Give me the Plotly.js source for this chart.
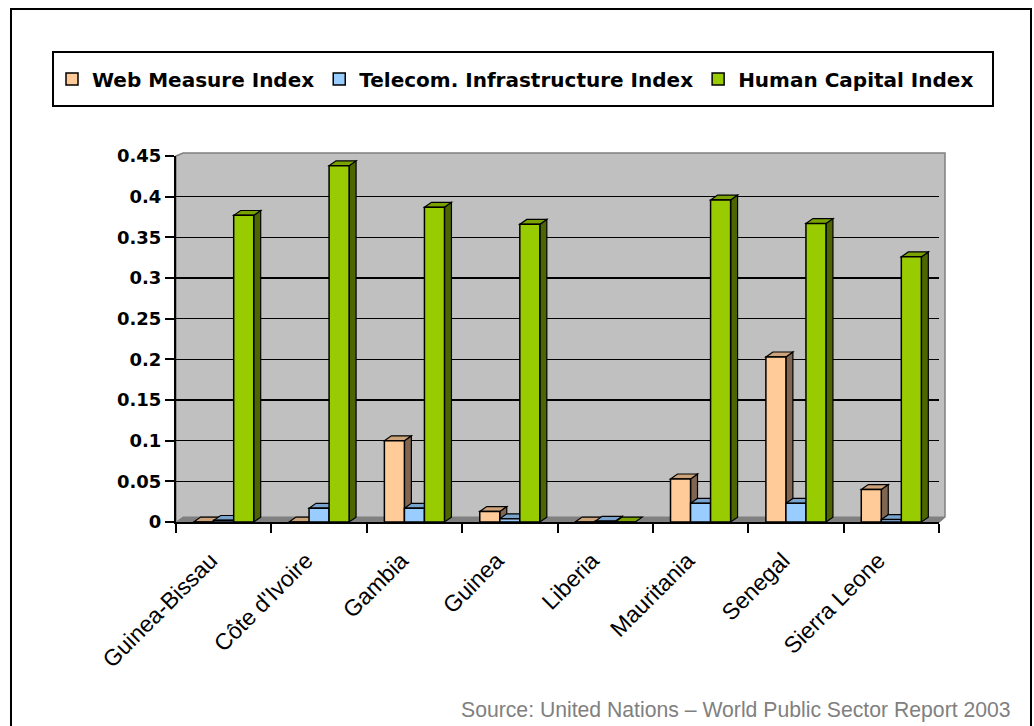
<!DOCTYPE html>
<html>
<head>
<meta charset="utf-8">
<script src="https://cdn.plot.ly/plotly-3.0.1.min.js"></script>
<style>
html,body{margin:0;padding:0;background:#ffffff;}
#chart{width:1034px;height:726px;}
</style>
</head>
<body>
<div id="chart"></div>
<script>
// ---- data ----
const countries = ["Guinea-Bissau", "Côte d'Ivoire", "Gambia", "Guinea", "Liberia", "Mauritania", "Senegal", "Sierra Leone"];
const webMeasure = [0, 0, 0.10, 0.013, 0, 0.053, 0.203, 0.04];
const telecomInfra = [0.002, 0.017, 0.017, 0.004, 0.001, 0.023, 0.023, 0.003];
const humanCapital = [0.377, 0.438, 0.387, 0.366, 0, 0.396, 0.367, 0.326];
const seriesNames = ["Web Measure Index", "Telecom. Infrastructure Index", "Human Capital Index"];
const yTickVals = [0, 0.05, 0.1, 0.15, 0.2, 0.25, 0.3, 0.35, 0.4, 0.45];
const yTickText = ["0", "0.05", "0.1", "0.15", "0.2", "0.25", "0.3", "0.35", "0.4", "0.45"];
const sourceText = "Source: United Nations – World Public Sector Report 2003";

// ---- styles ----
const frontColors = ["#FFCC99", "#99CCFF", "#99CC00"];
const topColors = ["#CCA37A", "#7AA3CC", "#7AA300"];
const sideColors = ["#806650", "#4D6680", "#4D6600"];
const FONT = "Liberation Sans, Arial, Helvetica, sans-serif";
const BOLDFONT = "DejaVu Sans, Liberation Sans, Arial, sans-serif";

const BARGAP = 0.37;
const W = (1 - BARGAP) / 3;   // bar width in category units
const DX = 0.073;             // 3D depth (category units)
const DY = 0.006;             // 3D depth (value units)

// plot area in pixels
const L = 176, R = 939, T = 156, B = 522;
const PW = R - L, PH = B - T;
const px = v => (v - L) / PW;
const py = v => (B - v) / PH;

const series = [webMeasure, telecomInfra, humanCapital];

const traces = series.map((vals, s) => ({
  type: 'bar',
  name: seriesNames[s],
  x: countries,
  y: vals,
  marker: { color: frontColors[s], line: { color: '#000000', width: 1.5 } },
  hoverinfo: 'skip'
}));

const shapes = [];
// back wall and floor
shapes.push({
  type: 'path', xref: 'paper', yref: 'paper', layer: 'below',
  path: `M${px(L)},${py(T)} L${px(L + 7)},${py(T - 3)} L${px(R + 6)},${py(T - 3)} L${px(R + 6)},${py(B - 5)} L${px(R)},${py(B)} L${px(L)},${py(B)} Z`,
  fillcolor: '#C0C0C0', line: { color: '#808080', width: 1.5 }
});
shapes.push({
  type: 'path', xref: 'paper', yref: 'paper', layer: 'below',
  path: `M${px(L)},${py(B)} L${px(L + 7)},${py(B - 5)} L${px(R + 6)},${py(B - 5)} L${px(R)},${py(B)} Z`,
  fillcolor: '#808080', line: { color: '#808080', width: 1 }
});

// 3D faces of bars (top and side), computed from the data through the axis scales
series.forEach((vals, s) => {
  vals.forEach((v, i) => {
    const x0 = i + (s - 1.5) * W;
    const x1 = x0 + W;
    if (v > 0.0005) {
      shapes.push({
        type: 'path', xref: 'x', yref: 'y', layer: 'between',
        path: `M${x1},${v} L${x1 + DX},${v + DY} L${x1 + DX},${DY} L${x1},0 Z`,
        fillcolor: sideColors[s], line: { color: '#000000', width: 1.2 }
      });
    }
    shapes.push({
      type: 'path', xref: 'x', yref: 'y', layer: 'between',
      path: `M${x0},${v} L${x0 + DX},${v + DY} L${x1 + DX},${v + DY} L${x1},${v} Z`,
      fillcolor: topColors[s], line: { color: '#000000', width: 1.2 }
    });
  });
});

// legend box
shapes.push({
  type: 'rect', xref: 'paper', yref: 'paper', layer: 'above',
  x0: px(53), x1: px(993), y0: py(106), y1: py(52),
  line: { color: '#000000', width: 2 }, fillcolor: 'rgba(0,0,0,0)'
});
// outer frame
shapes.push({
  type: 'rect', xref: 'paper', yref: 'paper', layer: 'above',
  x0: px(11), x1: px(1031), y0: py(745), y1: py(9),
  line: { color: '#000000', width: 2 }, fillcolor: 'rgba(0,0,0,0)'
});

const layout = {
  width: 1034, height: 726,
  margin: { l: L, r: 1034 - R, t: T, b: 726 - B, pad: 0 },
  paper_bgcolor: '#ffffff',
  plot_bgcolor: '#C0C0C0',
  barmode: 'group',
  bargap: BARGAP,
  bargroupgap: 0,
  showlegend: true,
  legend: {
    orientation: 'h',
    x: px(52), xanchor: 'left',
    y: py(79), yanchor: 'middle',
    bgcolor: 'rgba(0,0,0,0)',
    borderwidth: 0,
    font: { family: BOLDFONT, size: 20, color: '#000000', weight: 'bold' },
    traceorder: 'normal'
  },
  xaxis: {
    type: 'category',
    range: [-0.5, 7.5],
    showgrid: false,
    zeroline: false,
    showline: true, linecolor: '#000000', linewidth: 2,
    ticks: 'outside', tickson: 'boundaries', ticklen: 9, tickwidth: 2, tickcolor: '#000000',
    tickangle: -45,
    ticklabelstandoff: 14,
    ticklabelshift: -13,
    tickfont: { family: FONT, size: 23, color: '#000000' },
    fixedrange: true
  },
  yaxis: {
    range: [0, 0.45],
    tickvals: yTickVals,
    ticktext: yTickText,
    showgrid: true, gridcolor: '#000000', gridwidth: 1.5,
    zeroline: false,
    showline: true, linecolor: '#000000', linewidth: 2,
    ticks: 'outside', ticklen: 9, tickwidth: 2, tickcolor: '#000000',
    tickfont: { family: BOLDFONT, size: 18, color: '#000000', weight: 'bold' },
    fixedrange: true
  },
  shapes: shapes,
  annotations: [{
    text: sourceText,
    xref: 'paper', yref: 'paper',
    x: px(1013), xanchor: 'right',
    y: py(710), yanchor: 'middle',
    showarrow: false,
    font: { family: FONT, size: 21.2, color: '#808080' }
  }]
};

Plotly.newPlot('chart', traces, layout, { staticPlot: true, displayModeBar: false });
</script>
</body>
</html>
